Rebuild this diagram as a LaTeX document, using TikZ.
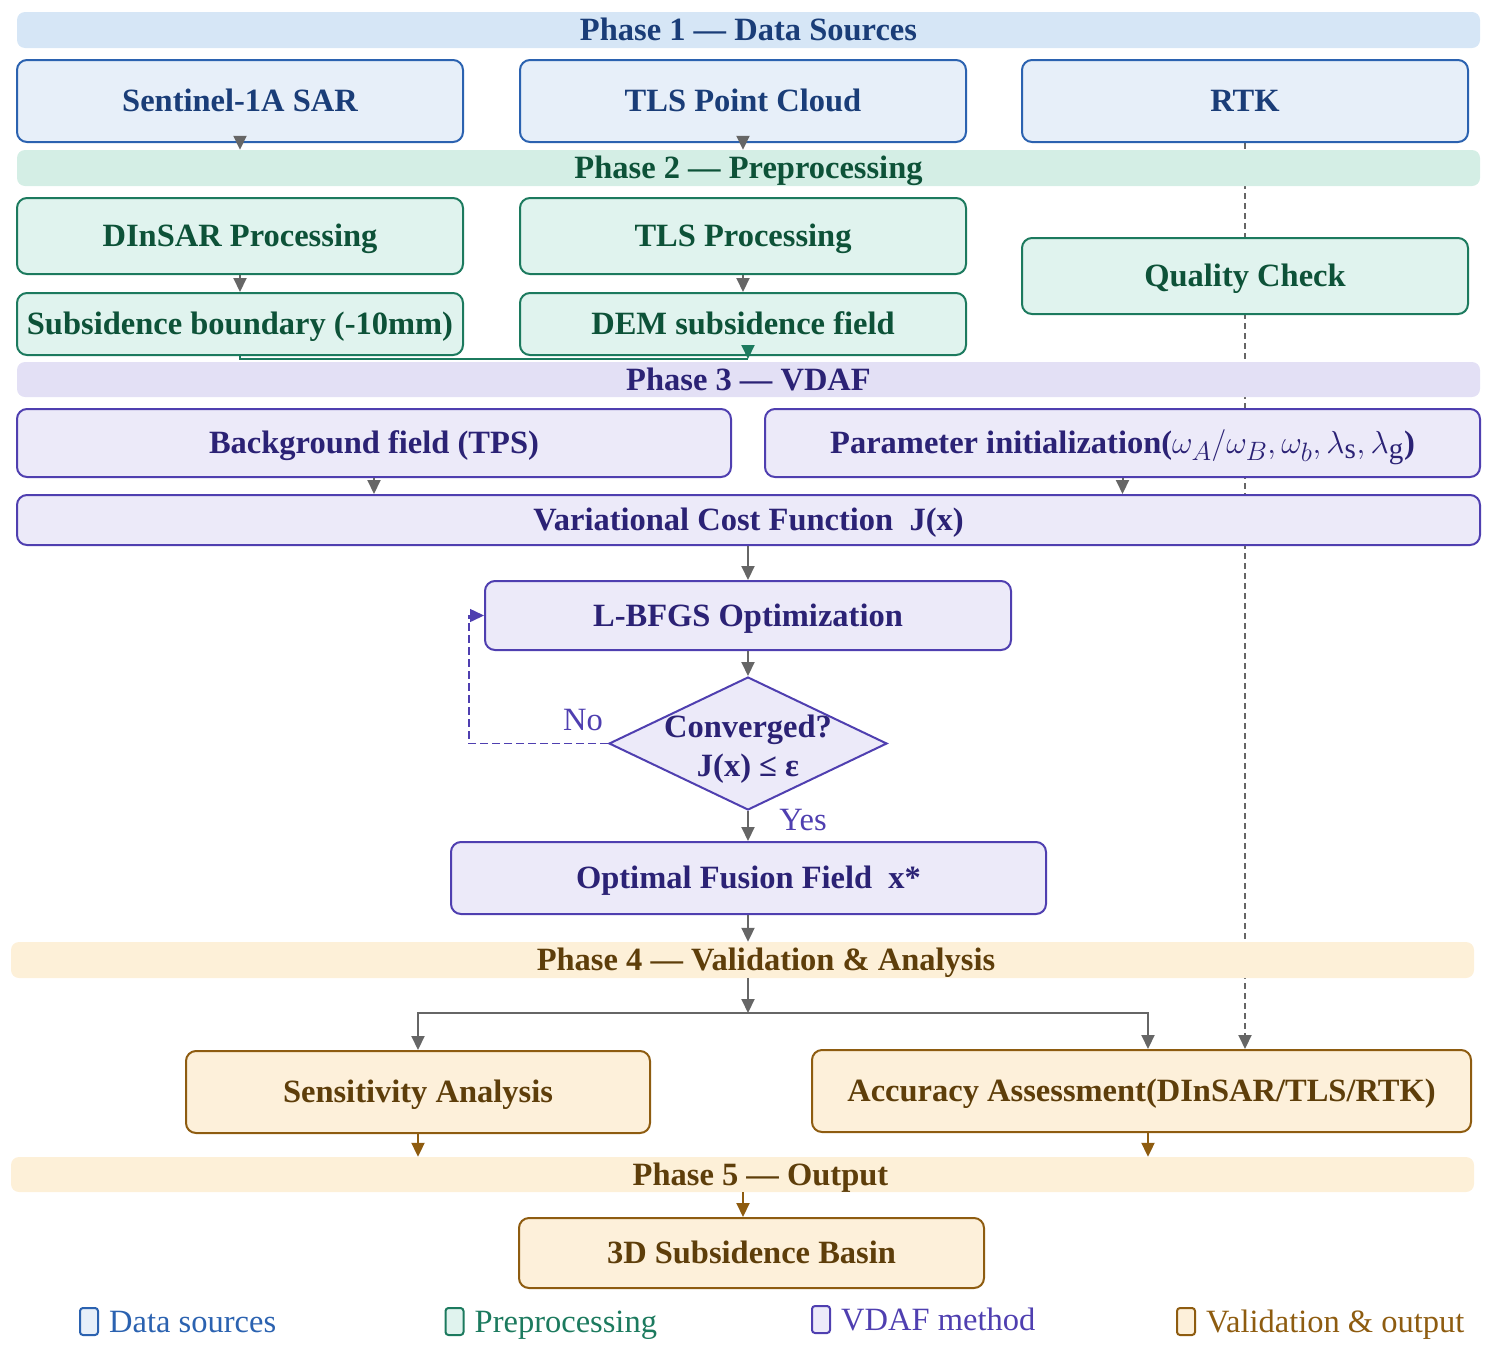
\documentclass[tikz,border=0pt]{standalone}
\usepackage{fontspec}
\setmainfont{Liberation Serif}
\usetikzlibrary{
    arrows.meta,
    positioning,
    shapes.geometric,
    backgrounds
}

\definecolor{blueline}{HTML}{2B62B0}
\definecolor{bluefill}{HTML}{E7EFF9}
\definecolor{bluebar}{HTML}{D6E6F6}
\definecolor{bluetext}{HTML}{1A3D78}
\definecolor{greenline}{HTML}{1C7A5E}
\definecolor{greenfill}{HTML}{E0F3EE}
\definecolor{greenbar}{HTML}{D4EEE5}
\definecolor{greentext}{HTML}{0D5238}
\definecolor{purpleline}{HTML}{4F3FB0}
\definecolor{purplefill}{HTML}{ECEAF9}
\definecolor{purplebar}{HTML}{E3E0F5}
\definecolor{purpletext}{HTML}{2B2275}
\definecolor{brownline}{HTML}{8E5C10}
\definecolor{brownfill}{HTML}{FDF0DA}
\definecolor{brownbar}{HTML}{FDF0D8}
\definecolor{browntext}{HTML}{5E3E0A}
\definecolor{arrowgray}{HTML}{666666}

\newcommand{\bigfont}{\fontsize{32.5}{39}\selectfont}

\tikzset{
    phasebar/.style={rounded corners=8pt, minimum width=1463pt, minimum height=36pt,
        inner sep=0pt, text height=27pt, text depth=5.5pt, font=\bigfont\bfseries},
    procbox/.style={draw, rounded corners=10pt, line width=2pt, inner sep=0pt,
        text height=27pt, text depth=5.5pt, font=\bigfont\bfseries},
    bluebox/.style={procbox, draw=blueline, fill=bluefill, text=bluetext},
    greenbox/.style={procbox, draw=greenline, fill=greenfill, text=greentext},
    purplebox/.style={procbox, draw=purpleline, fill=purplefill, text=purpletext},
    brownbox/.style={procbox, draw=brownline, fill=brownfill, text=browntext},
    legendicon/.style={draw, line width=2pt, rounded corners=3pt, minimum width=18pt,
        minimum height=27pt, inner sep=0pt},
    legendtext/.style={font=\bigfont, inner sep=0pt, text height=27pt, text depth=5.5pt,
        right=10pt of #1},
    flow/.style={draw=arrowgray, line width=2pt, -{Triangle[length=14pt,width=13pt]}},
}

\begin{document}
\begin{tikzpicture}[x=1pt, y=-1pt]

\useasboundingbox (0,0) rectangle (1491,1352);

% Phase 1
\node[phasebar, fill=bluebar, text=bluetext] (ph1) at (748.5,30) {Phase 1 — Data Sources};
\node[bluebox, minimum width=446pt, minimum height=82pt] (sar) at (240,101) {Sentinel-1A SAR};
\node[bluebox, minimum width=446pt, minimum height=82pt] (tls) at (743,101) {TLS Point Cloud};
\node[bluebox, minimum width=446pt, minimum height=82pt] (rtk) at (1245,101) {RTK};

% Phase 2
\node[phasebar, fill=greenbar, text=greentext] (ph2) at (748.5,168) {Phase 2 — Preprocessing};
\node[greenbox, minimum width=446pt, minimum height=76pt] (dinsar) at (240,236) {DInSAR Processing};
\node[greenbox, minimum width=446pt, minimum height=76pt] (tlsproc) at (743,236) {TLS Processing};
\node[greenbox, minimum width=446pt, minimum height=76pt] (qc) at (1245,276) {Quality Check};
\node[greenbox, minimum width=446pt, minimum height=62pt] (bound) at (240,324) {Subsidence boundary (-10mm)};
\node[greenbox, minimum width=446pt, minimum height=62pt] (dem) at (743,324) {DEM subsidence field};

% Phase 3
\node[phasebar, minimum height=35pt, fill=purplebar, text=purpletext] (ph3) at (748.5,379.5) {Phase 3 — VDAF};
\node[purplebox, minimum width=714pt, minimum height=68pt] (bg) at (374,443) {Background field (TPS)};
\node[purplebox, minimum width=715pt, minimum height=68pt] (param) at (1122.5,443)
    {Parameter initialization(\scalebox{1.28}{$\omega_A/\omega_B, \omega_b, \lambda_{\mathrm{s}}, \lambda_{\mathrm{g}}$})};
\node[purplebox, minimum width=1463pt, minimum height=50pt] (cost) at (748.5,520) {Variational Cost Function~~J(x)};
\node[purplebox, minimum width=526pt, minimum height=69pt] (lbfgs) at (748,615.5) {L-BFGS Optimization};
\node[diamond, draw=purpleline, fill=purplefill, line width=2pt, inner sep=0pt,
    minimum width=278pt, minimum height=133pt,
    label={[font=\bigfont\bfseries, text=purpletext, align=center, yshift=-6pt]center:Converged?\\J(x) ≤ ε}]
    (conv) at (748,743.5) {};
\node[purplebox, minimum width=595pt, minimum height=72pt] (opt) at (748.5,878) {Optimal Fusion Field~~x*};
\node[font=\bigfont, text=purpleline] (no) at (583,720) {No};
\node[font=\bigfont, text=purpleline] (yes) at (803,820) {Yes};

% Phase 4
\node[phasebar, fill=brownbar, text=browntext] (ph4) at (742.5,960) {\hspace*{47pt}Phase 4 — Validation \& Analysis};
\node[brownbox, minimum width=464pt, minimum height=82pt] (sens) at (418,1092) {Sensitivity Analysis};
\node[brownbox, minimum width=659pt, minimum height=82pt] (acc) at (1141.5,1091) {Accuracy Assessment(DInSAR/TLS/RTK)};
\coordinate (split) at (748,1013);

% Phase 5
\node[phasebar, minimum height=35pt, fill=brownbar, text=browntext] (ph5) at (742.5,1174.5) {\hspace*{36pt}Phase 5 — Output};
\node[brownbox, minimum width=465pt, minimum height=70pt] (basin) at (751.5,1253) {3D Subsidence Basin};

% Arrows
\draw[flow] (sar.south) -- (sar.south |- ph2.north);
\draw[flow] (tls.south) -- (tls.south |- ph2.north);
\draw[flow] (dinsar.south) -- (bound.north);
\draw[flow] (tlsproc.south) -- (dem.north);
\coordinate (fuse) at (748,359);
\draw[greenline, line width=2pt] (bound.south) |- (fuse);
\draw[flow, draw=greenline, fill=greenline] ([yshift=12pt]fuse) -- (fuse);
\draw[flow] (bg.south) -- (bg.south |- cost.north);
\draw[flow] (param.south) -- (param.south |- cost.north);
\draw[flow] (cost.south -| lbfgs.south) -- (lbfgs.north);
\draw[flow] (lbfgs.south) -- (conv.north);
\draw[flow, draw=purpleline, dash pattern=on 8pt off 4pt, line width=1.5pt]
    (conv.west) -| ([xshift=-15pt]lbfgs.west) -- (lbfgs.west);
\draw[flow] (conv.south) -- (opt.north -| conv.south);
\draw[flow] (opt.south -| conv.south) -- (ph4.north -| conv.south);
\draw[flow] (ph4.south -| split) -- (split);
\draw[flow] (split) -| (sens.north);
\draw[flow] (split) -| ([xshift=6.5pt]acc.north);
\draw[flow, draw=brownline] (sens.south) -- (sens.south |- ph5.north);
\draw[flow, draw=brownline] ([xshift=6.5pt]acc.south) -- ([xshift=6.5pt]acc.south |- ph5.north);
\draw[flow, draw=brownline] (ph5.south -| 743,0) -- (basin.north -| 743,0);

% RTK check line
\begin{scope}[on background layer]
\draw[flow, dash pattern=on 6pt off 4pt] (rtk.south) -- (rtk.south |- acc.north);
\end{scope}

% Legend
\node[legendicon, draw=blueline, fill=bluefill] (leg1) at (89,1321.5) {};
\node[legendtext=leg1, text=blueline] (legt1) {Data sources};
\node[legendicon, draw=greenline, fill=greenfill] (leg2) at (454.5,1321.5) {};
\node[legendtext=leg2, text=greenline] (legt2) {Preprocessing};
\node[legendicon, draw=purpleline, fill=purplefill] (leg3) at (821,1319.5) {};
\node[legendtext=leg3, text=purpleline] (legt3) {VDAF method};
\node[legendicon, draw=brownline, fill=brownfill] (leg4) at (1186,1321.5) {};
\node[legendtext=leg4, text=brownline] (legt4) {Validation \& output};

\end{tikzpicture}
\end{document}
